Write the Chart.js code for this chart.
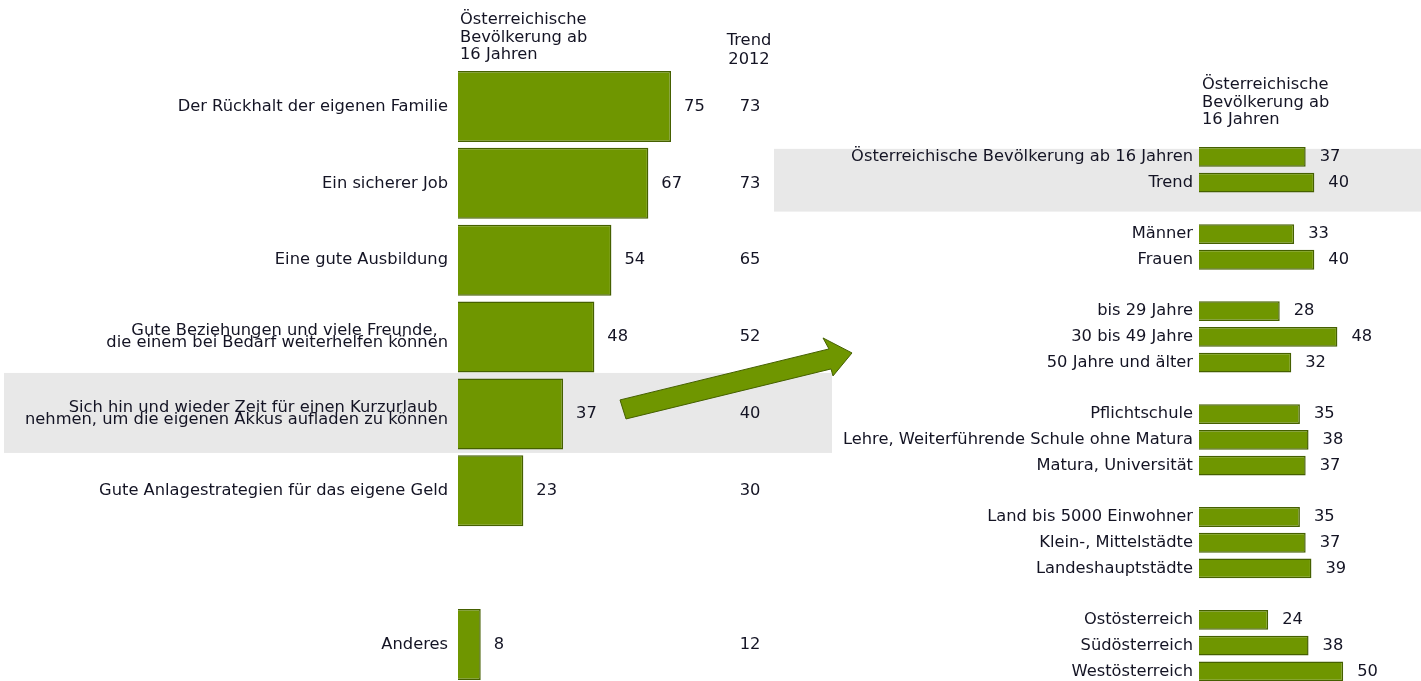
<!DOCTYPE html>
<html>
<head>
<meta charset="utf-8">
<script src="https://cdn.jsdelivr.net/npm/chart.js@4.4.1/dist/chart.umd.min.js"></script>
<style>
  body { margin:0; background:#fff; overflow:hidden; width:1421px; height:681px; }
  .box { position:absolute; top:0; }
</style>
</head>
<body>
<div class="box" style="left:774px"><canvas id="cnvRight" width="647" height="700"></canvas></div>
<div class="box" style="left:0px"><canvas id="cnvLeft" width="860" height="700"></canvas></div>
<script>
// left chart data
const leftLabels = [
  'Der Rückhalt der eigenen Familie',
  'Ein sicherer Job',
  'Eine gute Ausbildung',
  ['Gute Beziehungen und viele Freunde,  ', 'die einem bei Bedarf weiterhelfen können'],
  ['Sich hin und wieder Zeit für einen Kurzurlaub  ', 'nehmen, um die eigenen Akkus aufladen zu können'],
  'Gute Anlagestrategien für das eigene Geld',
  '',
  'Anderes'
]
const leftValues = [75, 67, 54, 48, 37, 23, null, 8]
const trendValues = [73, 73, 65, 52, 40, 30, null, 12]
const leftHeader = ['Österreichische', 'Bevölkerung ab', '16 Jahren']
const trendHeader = ['Trend', '2012']

// right chart data (empty entries are gaps between groups)
const rightLabels = [
  'Österreichische Bevölkerung ab 16 Jahren', 'Trend', '',
  'Männer', 'Frauen', '',
  'bis 29 Jahre', '30 bis 49 Jahre', '50 Jahre und älter', '',
  'Pflichtschule', 'Lehre, Weiterführende Schule ohne Matura', 'Matura, Universität', '',
  'Land bis 5000 Einwohner', 'Klein-, Mittelstädte', 'Landeshauptstädte', '',
  'Ostösterreich', 'Südösterreich', 'Westösterreich'
]
const rightValues = [37, 40, null, 33, 40, null, 28, 48, 32, null, 35, 38, 37, null, 35, 37, 39, null, 24, 38, 50]
const rightHeader = ['Österreichische', 'Bevölkerung ab', '16 Jahren']

const FONT = 'DejaVu Sans'
const FSIZE = 16.3
const TXT = '#141424'
const GREEN = '#6f9600'
const GREEN_DARK = '#456000'
const GREY = '#e8e8e8'

function valueLabels(offset, trendX) {
  return {
    id: 'valueLabels',
    afterDatasetsDraw(chart) {
      let ctx = chart.ctx
      let meta = chart.getDatasetMeta(0)
      let data = chart.data.datasets[0].data
      ctx.save()
      ctx.font = FSIZE + 'px "' + FONT + '"'
      ctx.fillStyle = TXT
      ctx.textBaseline = 'middle'
      meta.data.forEach((bar, i) => {
        if (data[i] == null) return
        ctx.textAlign = 'left'
        ctx.fillText(String(data[i]), bar.x + offset, bar.y)
        if (trendX) {
          ctx.textAlign = 'center'
          ctx.fillText(String(trendValues[i]), trendX, bar.y)
        }
      })
      ctx.restore()
    }
  }
}

function header(lines, x, y0, step, align) {
  return {
    id: 'header' + x,
    afterDraw(chart) {
      let ctx = chart.ctx
      ctx.save()
      ctx.font = FSIZE + 'px "' + FONT + '"'
      ctx.fillStyle = TXT
      ctx.textAlign = align
      ctx.textBaseline = 'middle'
      lines.forEach((l, i) => ctx.fillText(l, x, y0 + i * step))
      ctx.restore()
    }
  }
}

const leftBand = {
  id: 'leftBand',
  beforeDraw(chart) {
    let ctx = chart.ctx
    let y = chart.scales.y.getPixelForValue(4)
    ctx.save()
    ctx.fillStyle = GREY
    ctx.fillRect(4, y - 41, 828, 80)
    ctx.restore()
  },
  afterDraw(chart) {
    // arrow from the highlighted row over to the detail chart
    let ctx = chart.ctx
    let y = chart.scales.y.getPixelForValue(4)
    ctx.save()
    ctx.beginPath()
    ctx.moveTo(620, y - 14)
    ctx.lineTo(829, y - 65)
    ctx.lineTo(823, y - 76)
    ctx.lineTo(852, y - 61)
    ctx.lineTo(833, y - 38)
    ctx.lineTo(831, y - 45)
    ctx.lineTo(626, y + 5)
    ctx.closePath()
    ctx.fillStyle = GREEN
    ctx.fill()
    ctx.strokeStyle = GREEN_DARK
    ctx.lineWidth = 1
    ctx.stroke()
    ctx.restore()
  }
}

const rightBand = {
  id: 'rightBand',
  beforeDraw(chart) {
    let ctx = chart.ctx
    let y0 = chart.scales.y.getPixelForValue(0)
    let y1 = chart.scales.y.getPixelForValue(1)
    ctx.save()
    ctx.fillStyle = GREY
    ctx.fillRect(0, y0 - 8, chart.width, (y1 + 29) - (y0 - 8))
    ctx.restore()
  }
}

function makeChart(id, labels, values, opts) {
  let ctx = document.getElementById(id).getContext('2d')
  return new Chart(ctx, {
    type: 'bar',
    data: {
      labels: labels,
      datasets: [{
        data: values,
        backgroundColor: GREEN,
        borderColor: GREEN_DARK,
        borderWidth: 1.5,
        barPercentage: opts.barPct,
        categoryPercentage: 1
      }]
    },
    options: {
      indexAxis: 'y',
      responsive: false,
      animation: false,
      layout: { padding: { top: opts.top, bottom: opts.bottom, left: 0, right: 0 } },
      plugins: { legend: { display: false }, tooltip: { enabled: false } },
      scales: {
        x: { display: false, min: 0, max: opts.max },
        y: {
          grid: { display: false, drawTicks: false },
          border: { display: false },
          afterFit: (s) => { s.width = opts.axisWidth },
          ticks: {
            autoSkip: false,
            padding: opts.pad,
            color: TXT,
            font: { family: FONT, size: FSIZE, lineHeight: opts.lh }
          }
        }
      }
    },
    plugins: opts.plugins
  })
}

makeChart('cnvLeft', leftLabels, leftValues, {
  barPct: 0.925, top: 68, bottom: 17, max: 141.5, axisWidth: 458, pad: 10, lh: 0.75,
  plugins: [leftBand, valueLabels(13, 750), header(leftHeader, 460, 20, 17.5, 'left'), header(trendHeader, 749, 41, 19, 'center')]
})

makeChart('cnvRight', rightLabels, rightValues, {
  barPct: 0.77, top: 144, bottom: 14, max: 77, axisWidth: 425, pad: 6, lh: 1.2,
  plugins: [rightBand, valueLabels(14, 0), header(rightHeader, 428, 85, 17.5, 'left')]
})
</script>
</body>
</html>
